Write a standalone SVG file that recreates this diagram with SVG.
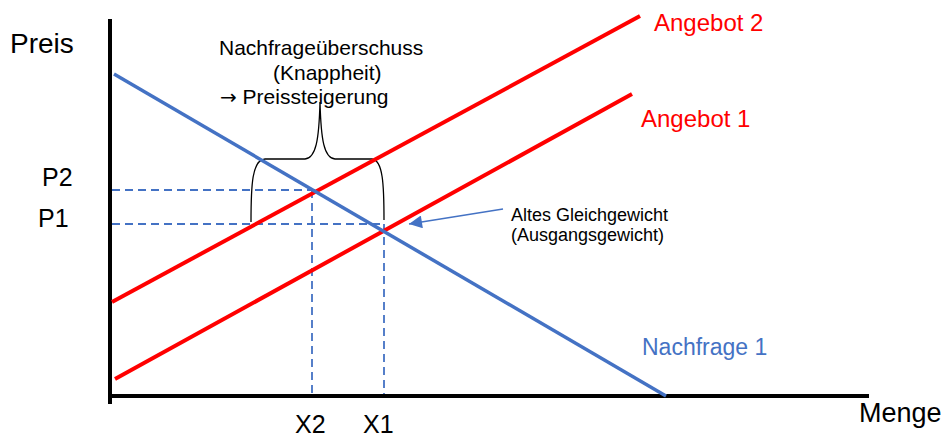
<svg xmlns="http://www.w3.org/2000/svg" width="950" height="437" viewBox="0 0 950 437">
<style>
text{font-family:"Liberation Sans",Arial,sans-serif;}
.ax{stroke:#000;stroke-width:4;fill:none;}
.sup{stroke:#FF0000;stroke-width:4;fill:none;}
.dem{stroke:#4472C4;stroke-width:3.5;fill:none;}
.dash{stroke:#4472C4;stroke-width:1.8;stroke-dasharray:8,5;fill:none;}
.red{fill:#FF0000;font-size:24px;}
.blue{fill:#4472C4;font-size:23px;}
.blk{fill:#000;}
</style>
<defs>
<marker id="ah" viewBox="0 0 10 10" refX="10" refY="5" markerWidth="17" markerHeight="13" markerUnits="userSpaceOnUse" orient="auto">
<path d="M0,0 L10,5 L0,10 z" fill="#4472C4"/>
</marker>
</defs>
<g id="connectors">
<line class="dash" x1="112" y1="190" x2="315" y2="190"/>
<line class="dash" x1="112" y1="224" x2="384" y2="224"/>
<line class="dash" x1="312" y1="190" x2="312" y2="396"/>
<line class="dash" x1="384" y1="224" x2="384" y2="396"/>
<line x1="503" y1="209" x2="409" y2="224" stroke="#4472C4" stroke-width="1.3" marker-end="url(#ah)"/>
<path d="M251,222 C251,185 252,160 265,159 L305,159 C316,158 319,140 320,102 C321,140 324,158 335,159 L372,159 C383,160 384,185 384,220" fill="none" stroke="#000" stroke-width="1.3"/>
</g>
<g id="axes">
<line class="ax" x1="110" y1="19" x2="110" y2="404"/>
<line class="ax" x1="108" y1="396" x2="869" y2="396"/>
</g>
<g id="angebot2"><line class="sup" x1="112" y1="302" x2="640" y2="16"/></g>
<g id="angebot1"><line class="sup" x1="115" y1="379" x2="632" y2="94"/></g>
<g id="nachfrage1"><line class="dem" x1="114" y1="74" x2="666" y2="396"/></g>
<g id="labels">
<text class="blk" x="10" y="53" font-size="28">Preis</text>
<text class="blk" x="859" y="422" font-size="27">Menge</text>
<text class="blk" x="42" y="186" font-size="25">P2</text>
<text class="blk" x="38" y="227" font-size="25">P1</text>
<text class="blk" x="295" y="433" font-size="25">X2</text>
<text class="blk" x="363" y="433" font-size="25">X1</text>
<text class="red" x="654" y="31">Angebot 2</text>
<text class="red" x="641" y="127">Angebot 1</text>
<text class="blue" x="642" y="355">Nachfrage 1</text>
<text class="blk" x="219" y="55" font-size="21">Nachfrageüberschuss</text>
<text class="blk" x="273" y="80" font-size="21">(Knappheit)</text>
<text class="blk" x="220" y="104" font-size="21"><tspan font-family="'DejaVu Sans',sans-serif" font-size="20">→</tspan> Preissteigerung</text>
<text class="blk" x="511" y="221" font-size="18">Altes Gleichgewicht</text>
<text class="blk" x="511" y="241" font-size="18">(Ausgangsgewicht)</text>
</g>
</svg>
